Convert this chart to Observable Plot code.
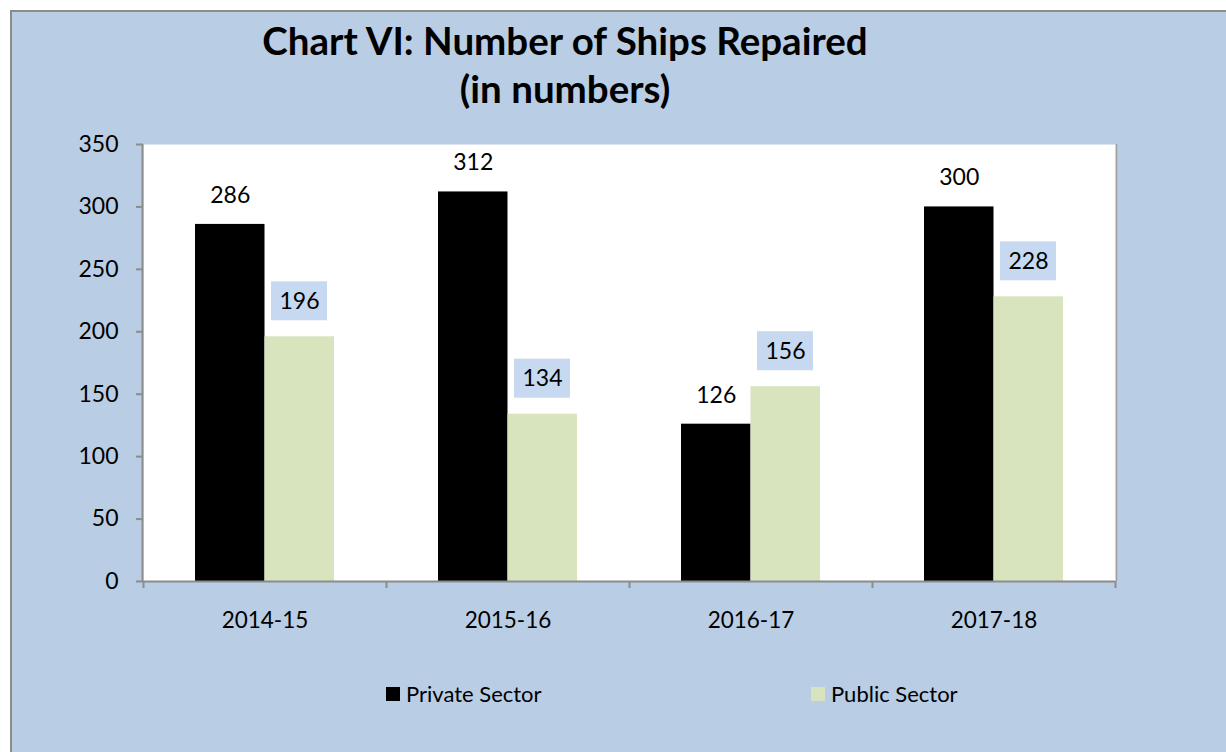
<!DOCTYPE html>
<html>
<head>
<meta charset="utf-8">
<script src="https://cdn.jsdelivr.net/npm/d3@7"></script>
<script src="https://cdn.jsdelivr.net/npm/@observablehq/plot@0.6"></script>
<style>
  html, body { margin: 0; padding: 0; background: #ffffff; overflow: hidden; }
  #wrap { position: relative; width: 1226px; height: 752px; overflow: hidden; font-family: Lato, "Open Sans", sans-serif; }
  #bg { position: absolute; left: 10px; top: 10px; width: 1230px; height: 760px; background: #b9cde5; border-left: 2px solid #8c8c8c; border-top: 2px solid #8c8c8c; }
  #title { position: absolute; left: 0; top: 16px; width: 1130px; text-align: center; font-weight: bold; font-size: 38.5px; line-height: 48px; color: #000; }
  #chart { position: absolute; left: 0; top: 130px; }
  .leg { position: absolute; top: 680px; font-size: 22px; line-height: 28px; color: #000; display: flex; align-items: center; }
  .sw { width: 14px; height: 14px; margin-right: 6px; }
</style>
</head>
<body>
<div id="wrap">
  <div id="bg"></div>
  <div id="title">Chart VI: Number of Ships Repaired<br>(in numbers)</div>
  <div id="chart"></div>
  <div class="leg" style="left:386px"><div class="sw" style="background:#000000"></div>Private Sector</div>
  <div class="leg" style="left:811px"><div class="sw" style="background:#d7e4bd"></div>Public Sector</div>
</div>
<script>
const years = ["2014-15", "2015-16", "2016-17", "2017-18"];
const privateSector = [286, 312, 126, 300];
const publicSector = [196, 134, 156, 228];
const yTicks = [0, 50, 100, 150, 200, 250, 300, 350];

const priv = years.map((y, i) => ({year: y, value: privateSector[i]}));
const pub = years.map((y, i) => ({year: y, value: publicSector[i]}));

const half = 121.5;

const chart = Plot.plot({
  width: 1226,
  height: 530,
  marginTop: 14,
  marginLeft: 143,
  marginRight: 111,
  marginBottom: 79,
  x: {type: "band", domain: years, padding: 0, axis: null},
  y: {domain: [0, 350], axis: null},
  style: {fontFamily: "Lato, 'Open Sans', sans-serif", fontSize: "23px", background: "transparent", color: "#000", overflow: "visible"},
  marks: [
    Plot.frame({fill: "white", stroke: null}),
    Plot.barY(pub, {x: "year", y1: "value", y2: "value", fill: "#c6d9f1", insetLeft: 128, insetRight: 59, insetTop: -39, dy: -16}),
    Plot.barY(priv, {x: "year", y: "value", fill: "#000000", insetLeft: 52, insetRight: half}),
    Plot.barY(pub, {x: "year", y: "value", fill: "#d7e4bd", insetLeft: half, insetRight: 52}),
    Plot.text(priv, {x: "year", y: "value", text: d => String(d.value), dx: -34.75, dy: -29, fontSize: 23, fill: "#000"}),
    Plot.text(pub, {x: "year", y: "value", text: d => String(d.value), dx: 34.5, dy: -35.5, fontSize: 23, fill: "#000"}),
    Plot.ruleY([0], {stroke: "#8c8c8c", strokeWidth: 2}),
    Plot.ruleX([years[0]], {x: d => d, dx: -half - 1, stroke: "#8c8c8c", strokeWidth: 2}),
    Plot.ruleX([years[years.length - 1]], {x: d => d, dx: half + 1, stroke: "#a0a0a0", strokeWidth: 1.5}),
    Plot.ruleX(years, {x: d => d, dx: -half, y1: 0, y2: -5.6, stroke: "#8c8c8c", strokeWidth: 2}),
    Plot.ruleX([years[years.length - 1]], {x: d => d, dx: half, y1: 0, y2: -5.6, stroke: "#8c8c8c", strokeWidth: 2}),
    Plot.axisY({ticks: yTicks, tickSize: 7, tickPadding: 18, stroke: "#8c8c8c", strokeWidth: 2, fill: "#000", fontSize: 23, label: null}),
    Plot.axisX({tickSize: 0, tickPadding: 31, fill: "#000", fontSize: 22.5, label: null})
  ]
});
document.getElementById("chart").appendChild(chart);
</script>
</body>
</html>
